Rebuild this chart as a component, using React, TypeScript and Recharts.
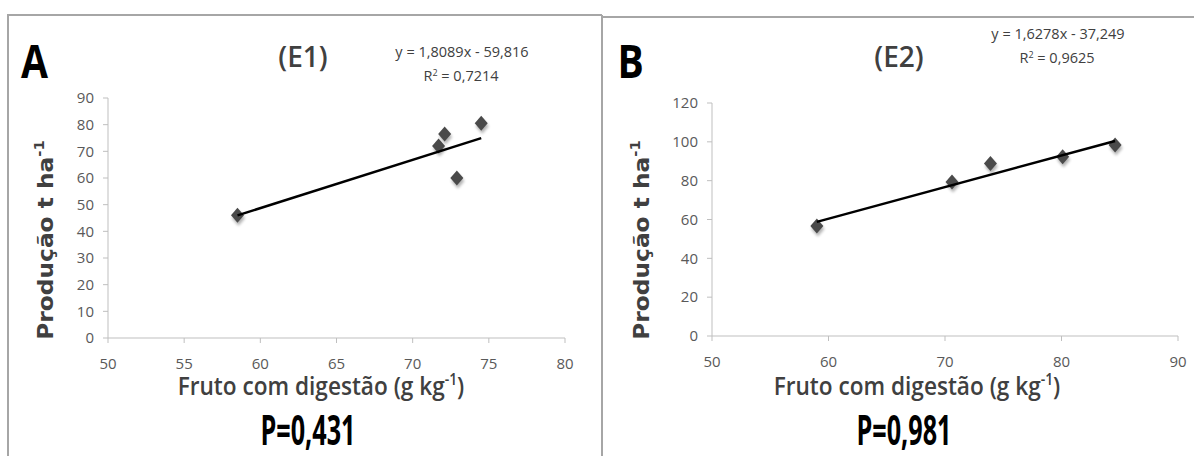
import React from "react";
import { ScatterChart, Scatter, XAxis, YAxis } from "recharts";

// E1 (panel A) measurements
const e1X = [58.5, 71.7, 72.1, 72.9, 74.5];
const e1Y = [46, 72, 76.5, 60, 80.5];
const e1XTicks = [50, 55, 60, 65, 70, 75, 80];
const e1YTicks = [0, 10, 20, 30, 40, 50, 60, 70, 80, 90];
const e1Slope = 1.8089;
const e1Intercept = -59.816;

// E2 (panel B) measurements
const e2X = [59, 70.6, 73.9, 80.1, 84.6];
const e2Y = [56.7, 79.3, 88.9, 92.3, 98.4];
const e2XTicks = [50, 60, 70, 80, 90];
const e2YTicks = [0, 20, 40, 60, 80, 100, 120];
const e2Slope = 1.6278;
const e2Intercept = -37.249;

const toPoints = (xs: number[], ys: number[]) => xs.map((x, i) => ({ x, y: ys[i] }));

// trendline drawn between the smallest and largest x, from the printed equation
const trendOf = (xs: number[], slope: number, intercept: number) => {
  const lo = Math.min(...xs);
  const hi = Math.max(...xs);
  return [lo, hi].map((x) => ({ x, y: slope * x + intercept }));
};

const AXIS = "#bfbfbf";
const TICK = { fill: "#595959", fontSize: 15, fontFamily: "Open Sans" };
const DARK = "#404040";

const Diamond = (props: any) => {
  const { cx, cy } = props;
  if (cx == null || cy == null) return <g />;
  const pts = (dx: number, dy: number) =>
    `${cx + dx},${cy - 7.5 + dy} ${cx + 6.5 + dx},${cy + dy} ${cx + dx},${cy + 7.5 + dy} ${cx - 6.5 + dx},${cy + dy}`;
  return (
    <g>
      <polygon points={pts(1, 3)} fill="#000" opacity={0.3} filter="url(#dshadow)" />
      <polygon points={pts(0, 0)} fill="#4a4a4a" />
    </g>
  );
};

const NoDot = () => <g />;

type PanelProps = {
  left: number;
  width: number;
  xs: number[];
  ys: number[];
  xTicks: number[];
  yTicks: number[];
  slope: number;
  intercept: number;
  margin: { top: number; right: number; bottom: number; left: number };
};

const Panel = ({ left, width, xs, ys, xTicks, yTicks, slope, intercept, margin }: PanelProps) => (
  <div style={{ position: "absolute", left, top: 0 }}>
    <ScatterChart width={width} height={456} margin={margin}>
      <XAxis
        type="number"
        dataKey="x"
        domain={[xTicks[0], xTicks[xTicks.length - 1]]}
        ticks={xTicks}
        interval={0}
        axisLine={{ stroke: AXIS }}
        tickLine={{ stroke: AXIS }}
        tickSize={5}
        tickMargin={15}
        tick={TICK}
        height={30}
      />
      <YAxis
        type="number"
        dataKey="y"
        domain={[yTicks[0], yTicks[yTicks.length - 1]]}
        ticks={yTicks}
        interval={0}
        axisLine={{ stroke: AXIS }}
        tickLine={{ stroke: AXIS }}
        tickSize={5}
        tickMargin={9}
        tick={TICK}
        width={40}
      />
      <Scatter data={toPoints(xs, ys)} shape={Diamond} isAnimationActive={false} />
      <Scatter
        data={trendOf(xs, slope, intercept)}
        shape={NoDot}
        line={{ stroke: "#000", strokeWidth: 2.5 }}
        isAnimationActive={false}
      />
    </ScatterChart>
  </div>
);

type TxtProps = {
  x: number;
  y: number;
  size: number;
  sx?: number;
  weight?: number;
  color?: string;
  family?: string;
  rotate?: boolean;
  children: React.ReactNode;
};

const Txt = ({ x, y, size, sx = 1, weight = 400, color = DARK, family = "Open Sans", rotate, children }: TxtProps) => (
  <text
    transform={`translate(${x},${y})${rotate ? " rotate(-90)" : ""} scale(${sx},1)`}
    textAnchor="middle"
    fontSize={size}
    fontWeight={weight}
    fill={color}
    fontFamily={family}
  >
    {children}
  </text>
);

const Annotations = ({ dx, letter, tag, eq, r2, eqY, p }: any) => (
  <g>
    <Txt x={dx + 34.5} y={78} size={46} sx={0.85} weight={700} color="#000">
      {letter}
    </Txt>
    <Txt x={dx + 303} y={67} size={28} weight={600}>
      {tag}
    </Txt>
    <Txt x={dx + 462} y={eqY} size={14.5}>
      {eq}
    </Txt>
    <Txt x={dx + 461} y={eqY + 24} size={14.5}>
      R<tspan dy={-5} fontSize={9}>2</tspan>
      <tspan dy={5}> = {r2}</tspan>
    </Txt>
    <Txt x={dx + 53} y={240} size={22} sx={1.06} weight={700} family="DejaVu Sans" rotate>
      Produção t ha<tspan dy={-9} fontSize={14}>-1</tspan>
    </Txt>
    <Txt x={dx + 321} y={395} size={26} sx={0.87} weight={600}>
      Fruto com digestão (g kg<tspan dy={-10} fontSize={16}>-1</tspan>
      <tspan dy={10}>)</tspan>
    </Txt>
    <Txt x={dx + 308} y={445} size={42} sx={0.6} weight={700} color="#000">
      {p}
    </Txt>
  </g>
);

export default function App() {
  return (
    <div
      style={{
        position: "absolute",
        left: 0,
        top: 0,
        width: 1194,
        height: 456,
        overflow: "hidden",
        background: "#fff",
      }}
    >
      <svg width={0} height={0} style={{ position: "absolute" }}>
        <defs>
          <filter id="dshadow" x="-50%" y="-50%" width="200%" height="200%">
            <feGaussianBlur stdDeviation={1.6} />
          </filter>
        </defs>
      </svg>
      <Panel
        left={0}
        width={600}
        xs={e1X}
        ys={e1Y}
        xTicks={e1XTicks}
        yTicks={e1YTicks}
        slope={e1Slope}
        intercept={e1Intercept}
        margin={{ top: 98, right: 35, bottom: 88, left: 68 }}
      />
      <Panel
        left={602}
        width={592}
        xs={e2X}
        ys={e2Y}
        xTicks={e2XTicks}
        yTicks={e2YTicks}
        slope={e2Slope}
        intercept={e2Intercept}
        margin={{ top: 103, right: 16, bottom: 90, left: 70 }}
      />
      <svg
        width={1194}
        height={456}
        style={{ position: "absolute", left: 0, top: 0, pointerEvents: "none" }}
      >
        {/* frames */}
        <polyline points="8,456 8,15 602,15" fill="none" stroke="#a6a6a6" strokeWidth={2} />
        <line x1={602} y1={15} x2={602} y2={456} stroke="#a6a6a6" strokeWidth={2} />
        <line x1={602} y1={17} x2={1194} y2={17} stroke="#a6a6a6" strokeWidth={2} />
        <Annotations dx={0} letter="A" tag="(E1)" eq="y = 1,8089x - 59,816" r2="0,7214" eqY={57} p="P=0,431" />
        <Annotations dx={596} letter="B" tag="(E2)" eq="y = 1,6278x - 37,249" r2="0,9625" eqY={39} p="P=0,981" />
      </svg>
    </div>
  );
}
